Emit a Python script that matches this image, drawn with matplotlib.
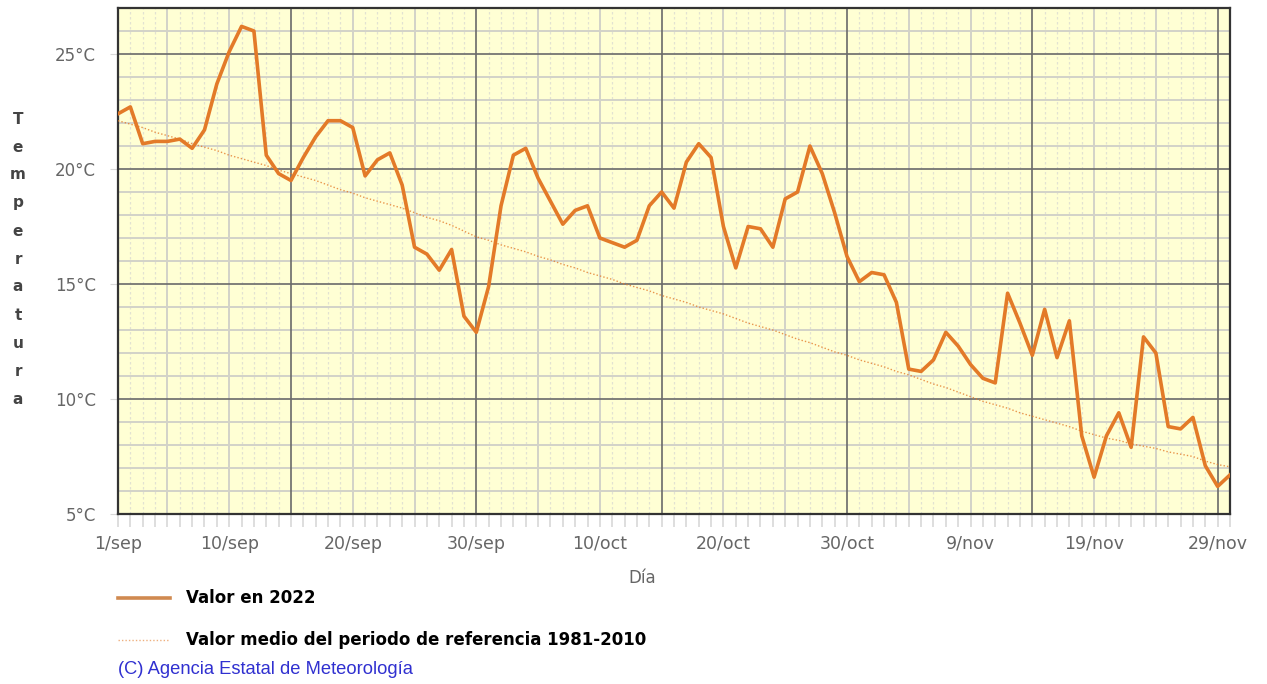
import matplotlib.pyplot as plt
from matplotlib.lines import Line2D
from matplotlib.ticker import MultipleLocator, FixedLocator

# Daily values, 1/sep (day 0) .. 30/nov (day 90)
valor_2022 = [
    22.4, 22.7, 21.1, 21.2, 21.2, 21.3, 20.9, 21.7, 23.7, 25.1,
    26.2, 26.0, 20.6, 19.8, 19.5, 20.5, 21.4, 22.1, 22.1, 21.8,
    19.7, 20.4, 20.7, 19.3, 16.6, 16.3, 15.6, 16.5, 13.6, 12.9,
    14.9, 18.4, 20.6, 20.9, 19.6, 18.6, 17.6, 18.2, 18.4, 17.0,
    16.8, 16.6, 16.9, 18.4, 19.0, 18.3, 20.3, 21.1, 20.5, 17.5,
    15.7, 17.5, 17.4, 16.6, 18.7, 19.0, 21.0, 19.8, 18.1, 16.2,
    15.1, 15.5, 15.4, 14.2, 11.3, 11.2, 11.7, 12.9, 12.3, 11.5,
    10.9, 10.7, 14.6, 13.3, 11.9, 13.9, 11.8, 13.4, 8.4, 6.6,
    8.4, 9.4, 7.9, 12.7, 12.0, 8.8, 8.7, 9.2, 7.1, 6.2,
    6.7,
]

valor_medio = [
    22.1, 21.95, 21.8, 21.6, 21.45, 21.3, 21.1, 20.95, 20.8, 20.6,
    20.45, 20.3, 20.15, 19.95, 19.8, 19.65, 19.5, 19.3, 19.1, 18.95,
    18.75, 18.6, 18.45, 18.3, 18.1, 17.9, 17.75, 17.55, 17.3, 17.05,
    16.9, 16.7, 16.55, 16.4, 16.2, 16.05, 15.85, 15.7, 15.5, 15.35,
    15.2, 15.0, 14.85, 14.7, 14.5, 14.35, 14.2, 14.0, 13.85, 13.7,
    13.5, 13.3, 13.15, 13.0, 12.8, 12.6, 12.45, 12.25, 12.05, 11.9,
    11.7, 11.55, 11.4, 11.2, 11.05, 10.85, 10.65, 10.5, 10.3, 10.1,
    9.9, 9.75, 9.6, 9.4, 9.25, 9.1, 8.95, 8.8, 8.6, 8.45,
    8.3, 8.2, 8.05, 7.95, 7.85, 7.7, 7.6, 7.5, 7.3, 7.15,
    7.05,
]

tick_days = [0, 9, 19, 29, 39, 49, 59, 69, 79, 89]
tick_labels = ['1/sep', '10/sep', '20/sep', '30/sep', '10/oct', '20/oct',
               '30/oct', '9/nov', '19/nov', '29/nov']
y_ticks = [5, 10, 15, 20, 25]

ORANGE = '#E37A28'
BG = '#FFFFD4'

fig = plt.figure(figsize=(12.67, 6.84), dpi=100)
ax = fig.add_axes([118 / 1267, 1 - 514 / 684, (1230 - 118) / 1267, (514 - 8) / 684])
ax.set_facecolor(BG)

days = list(range(len(valor_2022)))
ax.set_xlim(0, 90)
ax.set_ylim(5, 27)

# background grid
for d in range(0, 91):
    if (d + 1) % 15 == 0:
        ax.axvline(d, color='#6a6a6a', lw=1.2, zorder=1)
    elif (d + 1) % 5 == 0:
        ax.axvline(d, color='#d2d2c8', lw=1.4, zorder=0.8)
    else:
        ax.axvline(d, color='#e2e2d2', lw=0.9, ls=(0, (2, 2)), zorder=0.6)
for t in range(5, 28):
    if t % 5 == 0:
        ax.axhline(t, color='#6a6a6a', lw=1.2, zorder=1)
    else:
        ax.axhline(t, color='#d2d2c8', lw=1.4, zorder=0.8)

ax.plot(days, valor_medio, color=ORANGE, lw=1.0, ls=(0, (1, 1.5)), alpha=0.8, zorder=3)
ax.plot(days, valor_2022, color=ORANGE, lw=2.6, zorder=4, solid_joinstyle='round')

for s in ax.spines.values():
    s.set_color('#333333')
    s.set_linewidth(1.6)

ax.xaxis.set_major_locator(FixedLocator(tick_days))
ax.set_xticklabels(tick_labels)
ax.xaxis.set_minor_locator(MultipleLocator(1))
ax.set_yticks(y_ticks)
ax.set_yticklabels([f'{v}°C' for v in y_ticks])
ax.tick_params(axis='x', which='both', length=9, color='#d8d8d8', width=1.2,
               labelsize=12.5, labelcolor='#666666', pad=6)
ax.tick_params(axis='y', length=6, color='#d8d8d8', labelsize=12,
               labelcolor='#666666', pad=10)

fig.text(642 / 1267, 1 - 578 / 684, 'Día', ha='center', va='center',
         fontsize=12, color='#666666')

# vertical stacked y label
for i, ch in enumerate('Temperatura'):
    fig.text(18 / 1267, 1 - (119 + i * 28) / 684, ch, ha='center', va='center',
             fontsize=11, fontweight='bold', color='#444444')

# legend
fig.add_artist(Line2D([118 / 1267, 170 / 1267], [1 - 598 / 684] * 2,
                      color='#D08A50', lw=2.6))
fig.text(186 / 1267, 1 - 598 / 684, 'Valor en 2022', ha='left', va='center',
         fontsize=12, fontweight='bold', color='black')
fig.add_artist(Line2D([118 / 1267, 170 / 1267], [1 - 640 / 684] * 2,
                      color=ORANGE, lw=1.0, ls=(0, (1, 1.5)), alpha=0.6))
fig.text(186 / 1267, 1 - 640 / 684, 'Valor medio del periodo de referencia 1981-2010',
         ha='left', va='center', fontsize=12, fontweight='bold', color='black')
fig.text(118 / 1267, 1 - 669 / 684, '(C) Agencia Estatal de Meteorología',
         ha='left', va='center', fontsize=13.2, color='#3030d0',
         family='Liberation Sans')

fig.savefig('out.png', dpi=100)
